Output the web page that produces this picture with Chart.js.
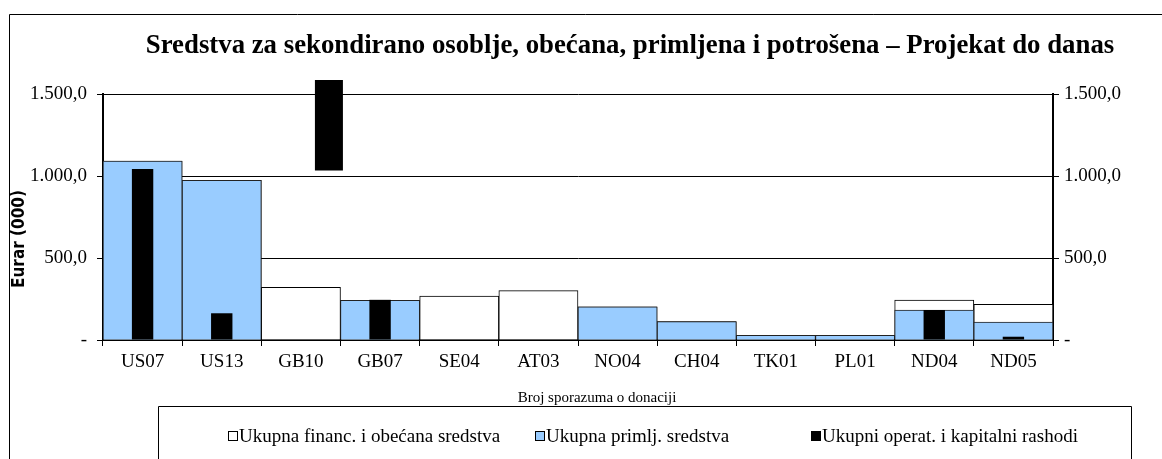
<!DOCTYPE html>
<html>
<head>
<meta charset="utf-8">
<script src="https://cdn.jsdelivr.net/npm/chart.js@4.4.1/dist/chart.umd.min.js"></script>
<style>
  html, body { margin: 0; padding: 0; background: #fff; }
  #wrap { width: 1162px; height: 459px; }
</style>
</head>
<body>
<div id="wrap"><canvas id="chart" width="1162" height="459"></canvas></div>
<script>
// Broj sporazuma o donaciji
var categories = ['US07', 'US13', 'GB10', 'GB07', 'SE04', 'AT03', 'NO04', 'CH04', 'TK01', 'PL01', 'ND04', 'ND05'];

// Euro (000)
var pledged  = [1091, 974, 321, 242, 268, 301, 203, 112, 29, 29, 244, 218];
var received = [1091, 974, 0, 242, 0, 0, 203, 112, 29, 29, 183, 110];
var spent    = [1043, 163, null, 245, 0, 0, 0, 0, 0, 0, 183, 20];
// GB10 spending runs off the axis top; the original shows it as a floating block
var spentOff = [null, null, [1033, 1585], null, null, null, null, null, null, null, null, null];

var yTicks = [0, 500, 1000, 1500];

var seriesLabels = [
  'Ukupna financ. i obećana sredstva',
  'Ukupna primlj. sredstva',
  'Ukupni operat. i kapitalni rashodi'
];

var chartTitle = 'Sredstva za sekondirano osoblje, obećana, primljena i potrošena – Projekat do danas';
var xTitle = 'Broj sporazuma o donaciji';
var yTitle = 'Eurar (000)';

var serif = '"Liberation Serif", "Times New Roman", serif';

function fmt(v) {
  if (v === 0) return '-';
  var s = v.toFixed(1).split('.');
  return s[0].replace(/\B(?=(\d{3})+(?!\d))/g, '.') + ',' + s[1];
}

var decor = {
  id: 'decor',
  afterDraw: function (chart) {
    var ctx = chart.ctx;
    ctx.save();
    // outer frame
    ctx.strokeStyle = '#000';
    ctx.lineWidth = 1;
    ctx.beginPath();
    ctx.moveTo(9.5, 459);
    ctx.lineTo(9.5, 14.5);
    ctx.lineTo(1162, 14.5);
    ctx.stroke();

    // title
    ctx.fillStyle = '#000';
    ctx.textBaseline = 'alphabetic';
    ctx.textAlign = 'center';
    ctx.font = 'bold 26.8px ' + serif;
    ctx.fillText(chartTitle, 630, 53);

    // x axis title
    ctx.font = '15px ' + serif;
    ctx.textBaseline = 'middle';
    ctx.fillText(xTitle, 597, 398);

    // y axis title
    ctx.save();
    ctx.translate(20, 239);
    ctx.rotate(-Math.PI / 2);
    ctx.font = 'bold 17px "DejaVu Sans Condensed", "Liberation Sans Narrow", sans-serif';
    ctx.fillText(yTitle, 0, 0);
    ctx.restore();

    // legend box
    ctx.strokeStyle = '#000';
    ctx.beginPath();
    ctx.moveTo(158.5, 459);
    ctx.lineTo(158.5, 406.5);
    ctx.lineTo(1131.5, 406.5);
    ctx.lineTo(1131.5, 459);
    ctx.stroke();

    var items = [229, 536, 812];
    ctx.font = '19px ' + serif;
    ctx.textAlign = 'left';
    chart.data.datasets.slice(0, 3).forEach(function (ds, i) {
      var x = items[i];
      var y = 437;
      ctx.fillStyle = ds.backgroundColor;
      ctx.fillRect(x - 0.5, y - 5.5, 9, 9);
      ctx.strokeStyle = '#000';
      ctx.lineWidth = 1;
      ctx.strokeRect(x - 0.5, y - 5.5, 9, 9);
      ctx.fillStyle = '#000';
      ctx.fillText(ds.label, x + 10, y);
    });
    ctx.restore();
  }
};

new Chart(document.getElementById('chart'), {
  type: 'bar',
  data: {
    labels: categories,
    datasets: [
      {
        label: seriesLabels[0],
        data: pledged,
        backgroundColor: '#ffffff',
        borderColor: '#000000',
        borderWidth: 1,
        barPercentage: 1,
        categoryPercentage: 1,
        grouped: false,
        order: 3
      },
      {
        label: seriesLabels[1],
        data: received,
        backgroundColor: '#99ccff',
        borderColor: '#222222',
        borderWidth: 1,
        barPercentage: 1,
        categoryPercentage: 1,
        grouped: false,
        order: 2
      },
      {
        label: seriesLabels[2],
        data: spent,
        backgroundColor: '#000000',
        borderWidth: 0,
        barPercentage: 0.27,
        categoryPercentage: 1,
        grouped: false,
        order: 1
      },
      {
        // empty slot so the off-scale block sits right of centre, as in the original
        label: '',
        data: [],
        backgroundColor: '#000000',
        barPercentage: 0.5,
        categoryPercentage: 1.415,
        grouped: true,
        order: 0
      },
      {
        label: seriesLabels[2],
        data: spentOff,
        backgroundColor: '#000000',
        borderWidth: 0,
        barPercentage: 0.5,
        categoryPercentage: 1.415,
        grouped: true,
        clip: false,
        order: 0
      }
    ]
  },
  options: {
    responsive: false,
    animation: false,
    layout: { padding: { left: 10, right: 0, top: 94, bottom: 0 } },
    plugins: {
      legend: { display: false },
      title: { display: false },
      tooltip: { enabled: false }
    },
    scales: {
      x: {
        offset: true,
        grid: {
          offset: true,
          drawOnChartArea: false,
          drawTicks: true,
          tickLength: 6,
          color: '#000'
        },
        border: { display: true, color: '#000', width: 2 },
        ticks: {
          color: '#000',
          padding: 5,
          maxRotation: 0,
          font: { family: serif, size: 19 }
        },
        afterFit: function (s) { s.height = 119; }
      },
      y: {
        position: 'left',
        min: 0,
        max: 1500,
        afterBuildTicks: function (s) { s.ticks = yTicks.map(function (v) { return { value: v }; }); },
        grid: {
          color: '#000',
          lineWidth: 1,
          drawTicks: true,
          tickLength: 6
        },
        border: { display: true, color: '#000', width: 2 },
        ticks: {
          color: '#000',
          padding: 10,
          font: { family: serif, size: 19 },
          callback: function (v) { return fmt(v); }
        },
        afterFit: function (s) { s.width = 93; }
      },
      y2: {
        position: 'right',
        display: true,
        min: 0,
        max: 1500,
        afterBuildTicks: function (s) { s.ticks = yTicks.map(function (v) { return { value: v }; }); },
        grid: {
          drawOnChartArea: false,
          drawTicks: true,
          tickLength: 6,
          color: '#000'
        },
        border: { display: true, color: '#000', width: 2 },
        ticks: {
          color: '#000',
          padding: 5,
          font: { family: serif, size: 19 },
          callback: function (v) { return fmt(v); }
        },
        afterFit: function (s) { s.width = 109; }
      }
    }
  },
  plugins: [decor]
});
</script>
</body>
</html>
